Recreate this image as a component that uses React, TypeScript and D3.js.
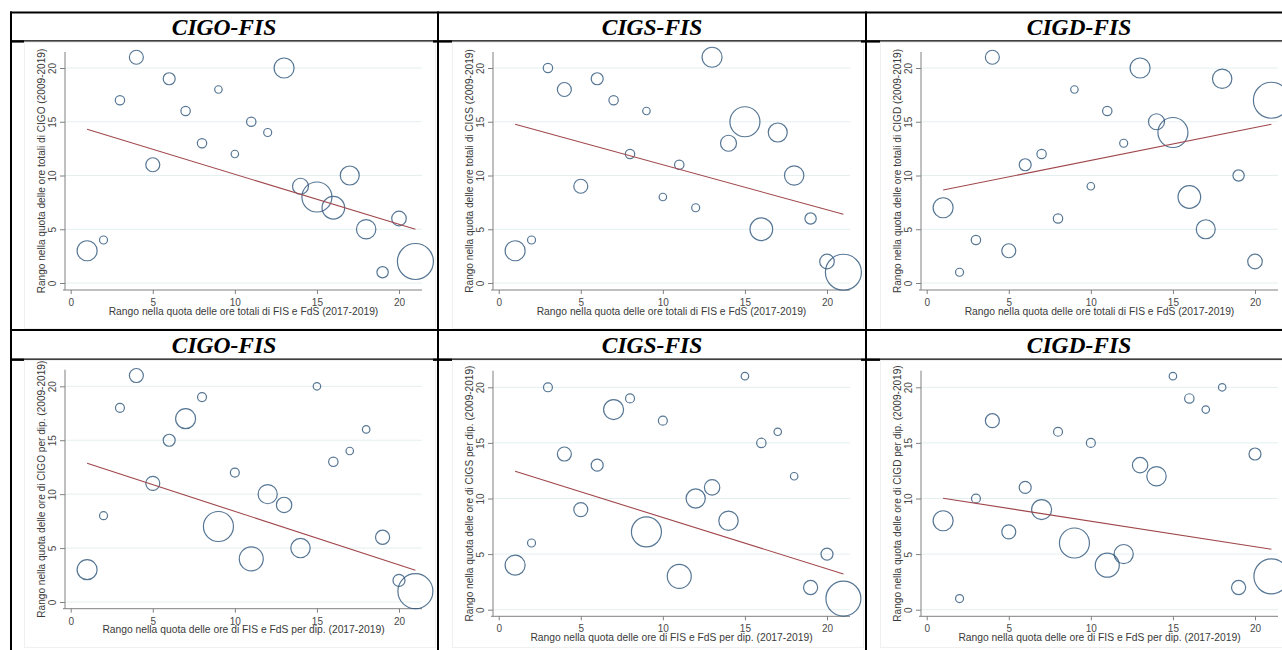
import React, { useEffect, useRef } from "react";
import * as d3 from "d3";

// rank on the x axis (FIS + FdS share)
const ranghi = [1, 2, 3, 4, 5, 6, 7, 8, 9, 10, 11, 12, 13, 14, 15, 16, 17, 18, 19, 20, 21];

// bubble weights
const pesiTotali = [100, 16, 22, 49, 49, 36, 22, 22, 14, 14, 22, 16, 100, 64, 225, 128, 90, 94, 32, 53, 324];
const pesiPerDip = [100, 16, 20, 49, 49, 36, 100, 20, 225, 20, 144, 92, 59, 94, 14, 22, 14, 14, 50, 36, 306];

// y ranks
const cigoTotali = [3, 4, 17, 21, 11, 19, 16, 13, 18, 12, 15, 14, 20, 9, 8, 7, 10, 5, 1, 6, 2];
const cigsTotali = [3, 4, 20, 18, 9, 19, 17, 12, 16, 8, 11, 7, 21, 13, 15, 5, 14, 10, 6, 2, 1];
const cigdTotali = [7, 1, 4, 21, 3, 11, 12, 6, 18, 9, 16, 13, 20, 15, 14, 8, 5, 19, 10, 2, 17];
const cigoPerDip = [3, 8, 18, 21, 11, 15, 17, 19, 7, 12, 4, 10, 9, 5, 20, 13, 14, 16, 6, 2, 1];
const cigsPerDip = [4, 6, 20, 14, 9, 13, 18, 19, 7, 17, 3, 10, 11, 8, 21, 15, 16, 12, 2, 5, 1];
const cigdPerDip = [8, 1, 10, 17, 7, 11, 9, 16, 6, 15, 4, 5, 13, 12, 21, 19, 18, 20, 2, 14, 3];

// fitted line, value at rank 1 and rank 21
const fitCigoTotali = [14.3, 5.0];
const fitCigsTotali = [14.76, 6.39];
const fitCigdTotali = [8.65, 14.76];
const fitCigoPerDip = [12.87, 2.94];
const fitCigsPerDip = [12.45, 3.21];
const fitCigdPerDip = [10.02, 5.43];

const titoli = ["CIGO-FIS", "CIGS-FIS", "CIGD-FIS"];
const tickValori = [0, 5, 10, 15, 20];
const xTitoloTotali = "Rango nella quota delle ore totali di FIS e FdS (2017-2019)";
const xTitoloPerDip = "Rango nella quota delle ore di FIS e FdS per dip. (2017-2019)";
const yTitoliTotali = [
  "Rango nella quota delle ore totali di CIGO (2009-2019)",
  "Rango nella quota delle ore totali di CIGS (2009-2019)",
  "Rango nella quota delle ore totali di CIGD (2009-2019)",
];
const yTitoliPerDip = [
  "Rango nella quota delle ore di CIGO per dip. (2009-2019)",
  "Rango nella quota delle ore di CIGS per dip. (2009-2019)",
  "Rango nella quota delle ore di CIGD per dip. (2009-2019)",
];

const W = 1282,
  H = 650;
const colOffsets = [0, 428, 856];
const SANS = "'Liberation Sans', Arial, sans-serif";

// vertical geometry of each plot
const geoRow1 = { y0: 283, y20: 68, top: 52, xAxis: 290 };
const geoP4 = { y0: 602, y20: 386.3, top: 369.7, xAxis: 608.7 };
const geoP56 = { y0: 609.7, y20: 387.3, top: 370.7, xAxis: 616.3 };

const pannelli = [
  { col: 0, geo: geoRow1, y: cigoTotali, pesi: pesiTotali, fit: fitCigoTotali, yt: yTitoliTotali[0], xt: xTitoloTotali },
  { col: 1, geo: geoRow1, y: cigsTotali, pesi: pesiTotali, fit: fitCigsTotali, yt: yTitoliTotali[1], xt: xTitoloTotali },
  { col: 2, geo: geoRow1, y: cigdTotali, pesi: pesiTotali, fit: fitCigdTotali, yt: yTitoliTotali[2], xt: xTitoloTotali },
  { col: 0, geo: geoP4, y: cigoPerDip, pesi: pesiPerDip, fit: fitCigoPerDip, yt: yTitoliPerDip[0], xt: xTitoloPerDip },
  { col: 1, geo: geoP56, y: cigsPerDip, pesi: pesiPerDip, fit: fitCigsPerDip, yt: yTitoliPerDip[1], xt: xTitoloPerDip },
  { col: 2, geo: geoP56, y: cigdPerDip, pesi: pesiPerDip, fit: fitCigdPerDip, yt: yTitoliPerDip[2], xt: xTitoloPerDip },
];

export default function App() {
  const ref = useRef(null);

  useEffect(() => {
    const svg = d3.select(ref.current);
    svg.selectAll("*").remove();

    svg.append("rect").attr("width", W).attr("height", H).attr("fill", "#fff");

    const r = d3.scaleSqrt().domain([0, 225]).range([0, 15]);

    // faint outlines of the graph images
    colOffsets.forEach((off) => {
      svg.append("rect").attr("x", off + 24.5).attr("y", 42.5).attr("width", 411).attr("height", 286)
        .attr("fill", "none").attr("stroke", "#f0f0f0");
      svg.append("rect").attr("x", off + 24.5).attr("y", 360.5).attr("width", 411).attr("height", 287)
        .attr("fill", "none").attr("stroke", "#f0f0f0");
    });

    pannelli.forEach((p) => {
      const off = colOffsets[p.col];
      const g = p.geo;
      const x = d3.scaleLinear().domain([0, 20]).range([off + 70.7, off + 399]);
      const y = d3.scaleLinear().domain([0, 20]).range([g.y0, g.y20]);
      const left = off + 65,
        right = off + 422;

      const chart = svg.append("g");

      // gridlines
      chart.selectAll(".grid").data(tickValori).enter().append("line")
        .attr("x1", left).attr("x2", right)
        .attr("y1", (d) => y(d)).attr("y2", (d) => y(d))
        .attr("stroke", "#e4eff0").attr("stroke-width", 1);

      // x axis
      const xa = chart.append("g").attr("transform", `translate(0,${g.xAxis})`)
        .call(d3.axisBottom(x).tickValues(tickValori).tickSize(4).tickPadding(5));
      xa.select(".domain").remove();
      xa.selectAll("line").attr("stroke", "#808080");
      xa.selectAll("text").attr("font-family", SANS).attr("font-size", 10).attr("fill", "#4a4a4a");
      chart.append("line").attr("x1", left - 2).attr("x2", right).attr("y1", g.xAxis).attr("y2", g.xAxis)
        .attr("stroke", "#808080").attr("stroke-width", 1);

      // y axis
      const ya = chart.append("g").attr("transform", `translate(${left},0)`)
        .call(d3.axisLeft(y).tickValues(tickValori).tickSize(5));
      ya.select(".domain").remove();
      ya.selectAll("line").attr("stroke", "#808080");
      ya.selectAll("text")
        .attr("x", null).attr("dy", null)
        .attr("text-anchor", "middle")
        .attr("transform", "translate(-9.5,0) rotate(-90)")
        .attr("font-family", SANS).attr("font-size", 10).attr("fill", "#4a4a4a");
      chart.append("line").attr("x1", left).attr("x2", left).attr("y1", g.top).attr("y2", g.xAxis)
        .attr("stroke", "#808080").attr("stroke-width", 1);

      // axis titles
      chart.append("text").attr("x", (left + right) / 2).attr("y", g.xAxis + 24.5)
        .attr("text-anchor", "middle").attr("font-family", SANS).attr("font-size", 10.3).attr("fill", "#3a3a3a")
        .text(p.xt);
      chart.append("text")
        .attr("transform", `translate(${off + 44.7},${(g.top + g.xAxis) / 2}) rotate(-90)`)
        .attr("text-anchor", "middle").attr("font-family", SANS).attr("font-size", 10.1).attr("fill", "#3a3a3a")
        .text(p.yt);

      // bubbles
      const pts = ranghi.map((rk, i) => ({ x: rk, y: p.y[i], w: p.pesi[i] }));
      chart.selectAll(".bolla").data(pts).enter().append("circle")
        .attr("cx", (d) => x(d.x)).attr("cy", (d) => y(d.y)).attr("r", (d) => r(d.w))
        .attr("fill", "none").attr("stroke", "#2c5479").attr("stroke-width", 1.2).attr("stroke-opacity", 0.8);

      // fitted line
      const linea = d3.line().x((d) => x(d[0])).y((d) => y(d[1]));
      chart.append("path")
        .datum([[ranghi[0], p.fit[0]], [ranghi[ranghi.length - 1], p.fit[1]]])
        .attr("d", linea).attr("fill", "none").attr("stroke", "#a0474c").attr("stroke-width", 1.1);
    });

    // table borders
    const tab = svg.append("g").attr("stroke", "#000");
    tab.append("line").attr("x1", 10).attr("x2", W).attr("y1", 12.5).attr("y2", 12.5).attr("stroke-width", 2);
    tab.append("line").attr("x1", 10).attr("x2", W).attr("y1", 330).attr("y2", 330).attr("stroke-width", 2);
    tab.append("line").attr("x1", 10).attr("x2", W).attr("y1", 40.8).attr("y2", 40.8).attr("stroke-width", 1.2);
    tab.append("line").attr("x1", 10).attr("x2", W).attr("y1", 359.2).attr("y2", 359.2).attr("stroke-width", 1.2);
    [11, 438, 866].forEach((cx) => {
      tab.append("line").attr("x1", cx).attr("x2", cx).attr("y1", 11.5).attr("y2", H).attr("stroke-width", 2);
    });
    [[10, 24], [433, 452], [861, 880]].forEach(([a, b]) => {
      tab.append("line").attr("x1", a).attr("x2", b).attr("y1", 41.5).attr("y2", 41.5).attr("stroke-width", 2.2);
      tab.append("line").attr("x1", a).attr("x2", b).attr("y1", 359.8).attr("y2", 359.8).attr("stroke-width", 2.2);
    });

    // headers
    [34.8, 353].forEach((by) => {
      titoli.forEach((t, i) => {
        svg.append("text")
          .attr("x", [224, 652, 1079][i]).attr("y", by)
          .attr("text-anchor", "middle")
          .attr("font-family", "'Liberation Serif', 'Times New Roman', serif")
          .attr("font-weight", "bold").attr("font-style", "italic").attr("font-size", 23.5)
          .attr("fill", "#000")
          .text(t);
      });
    });
  }, []);

  return (
    <svg ref={ref} width={W} height={H} style={{ position: "absolute", left: 0, top: 0, display: "block" }} />
  );
}
